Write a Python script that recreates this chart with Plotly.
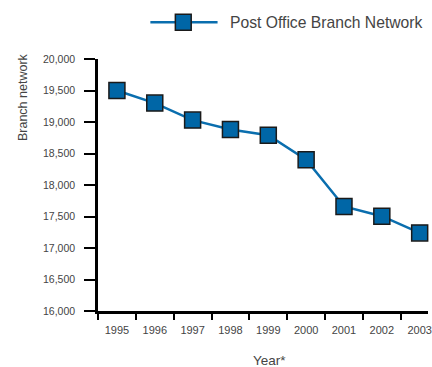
import plotly.graph_objects as go

years = ["1995", "1996", "1997", "1998", "1999", "2000", "2001", "2002", "2003"]
branches = [19500, 19300, 19030, 18880, 18790, 18400, 17660, 17505, 17240]
y_ticks = [16000, 16500, 17000, 17500, 18000, 18500, 19000, 19500, 20000]
series_name = "Post Office Branch Network"

FONT = "Liberation Sans, Arial, sans-serif"
LINE_C = "#0a6eae"
MARK_C = "#0066a6"
TXT = "#444444"

xpos = list(range(len(years)))

fig = go.Figure()
fig.add_trace(go.Scatter(
    x=xpos, y=branches, mode="lines+markers", name=series_name,
    line=dict(color=LINE_C, width=2.5),
    marker=dict(symbol="square", size=16, color=MARK_C,
                line=dict(color="#1a1a1a", width=1.5)),
    cliponaxis=False, showlegend=False,
))

fig.update_layout(
    width=432, height=367,
    margin=dict(l=98, r=0, t=59, b=56, pad=0),
    plot_bgcolor="white", paper_bgcolor="white",
    font=dict(family=FONT, color=TXT),
    xaxis=dict(
        range=[-0.5, 8.22],
        tickvals=xpos, ticktext=years,
        ticks="outside", ticklen=7, tickcolor="rgba(0,0,0,0)",
        ticklabeloverflow="allow",
        showline=True, linecolor="black", linewidth=2.5,
        showgrid=False, zeroline=False,
        tickfont=dict(size=11, color=TXT, family=FONT),
        minor=dict(tick0=-0.5, dtick=1, ticks="outside", ticklen=6,
                   tickwidth=2, tickcolor="black", showgrid=False),
    ),
    yaxis=dict(
        range=[16000, 20000],
        tickvals=y_ticks, tickformat=",",
        ticks="outside", ticklen=11, tickwidth=2, tickcolor="black",
        showline=True, linecolor="black", linewidth=2.5,
        showgrid=False, zeroline=False,
        ticklabelstandoff=7,
        tickfont=dict(size=10.5, color=TXT, family=FONT),
    ),
    showlegend=False,
)

# y-axis title
fig.add_annotation(text="Branch network", xref="paper", yref="paper",
                   x=-0.225, y=0.848, textangle=-90, showarrow=False,
                   xanchor="center", yanchor="middle",
                   font=dict(size=12.5, color=TXT, family=FONT))
# x-axis title
fig.add_annotation(text="Year*", xref="paper", yref="paper",
                   x=0.52, y=-0.195, showarrow=False,
                   xanchor="center", yanchor="middle",
                   font=dict(size=13.5, color=TXT, family=FONT))

# legend (drawn manually)
ly = 1.1456
fig.add_shape(type="line", xref="paper", yref="paper",
              x0=0.1587, x1=0.3623, y0=ly, y1=ly,
              line=dict(color=LINE_C, width=2.5))
fig.add_shape(type="rect", xref="paper", yref="paper",
              x0=0.2584 - 0.0240, x1=0.2584 + 0.0240,
              y0=ly - 0.0318, y1=ly + 0.0318,
              fillcolor=MARK_C, line=dict(color="#1a1a1a", width=1.5))
fig.add_annotation(text=series_name, xref="paper", yref="paper",
                   x=0.395, y=ly, showarrow=False,
                   xanchor="left", yanchor="middle",
                   font=dict(size=15.7, color=TXT, family=FONT))

fig.write_html("out.html")
